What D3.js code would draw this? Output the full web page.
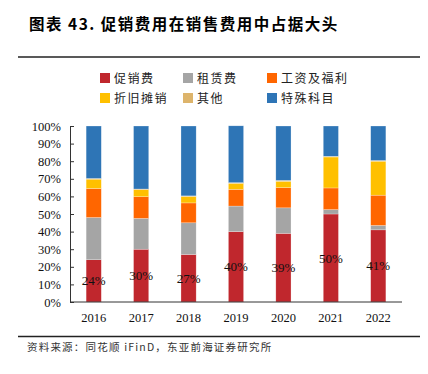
<!DOCTYPE html>
<html>
<head>
<meta charset="utf-8">
<script src="https://cdn.jsdelivr.net/npm/d3@7"></script>
<style>
  body { margin: 0; background: #fff; }
  svg text { font-family: "Liberation Serif", "Noto Sans CJK SC", serif; }
  .cjk { font-family: "Noto Sans CJK SC", sans-serif; }
</style>
</head>
<body>
<div id="chart"></div>
<script>
// data (percent of selling expenses)
const years = ["2016", "2017", "2018", "2019", "2020", "2021", "2022"];
const seriesNames = ["促销费", "租赁费", "工资及福利", "折旧摊销", "其他", "特殊科目"];
const promo = [24, 30, 27, 40, 39, 50, 41];
const rent = [24, 17.5, 18, 14.5, 14.5, 2.5, 2.5];
const salary = [16.5, 12.3, 11.3, 9.5, 11.5, 12.3, 17.2];
const deprec = [5.3, 4, 3.6, 3.4, 3.6, 17.6, 19.3];
const other = [0.4, 0.4, 0.4, 0.4, 0.5, 0.4, 0.4];
const special = [29.8, 35.8, 39.7, 32.3, 30.9, 17.2, 19.6];
const yTicks = [0, 10, 20, 30, 40, 50, 60, 70, 80, 90, 100];
const colors = ["#C0272D", "#A5A5A5", "#FF6600", "#FFC000", "#DDB46B", "#2E75B6"];

const width = 428, height = 374;
const margin = { top: 126, bottom: 72, left: 70, right: 26 };

const table = years.map((y, i) => ({
    year: y,
    "促销费": promo[i],
    "租赁费": rent[i],
    "工资及福利": salary[i],
    "折旧摊销": deprec[i],
    "其他": other[i],
    "特殊科目": special[i]
}));

const svg = d3.select("#chart").append("svg")
    .attr("width", width)
    .attr("height", height);

// title + rules
svg.append("text")
    .attr("class", "cjk")
    .attr("x", 29).attr("y", 30)
    .attr("font-size", 15.5)
    .attr("font-weight", "bold")
    .attr("letter-spacing", 1.5)
    .text("图表 43. 促销费用在销售费用中占据大头");

svg.append("line")
    .attr("x1", 18).attr("x2", 420)
    .attr("y1", 57).attr("y2", 57)
    .attr("stroke", "#222").attr("stroke-width", 1.5);

svg.append("line")
    .attr("x1", 18).attr("x2", 420)
    .attr("y1", 336.5).attr("y2", 336.5)
    .attr("stroke", "#222").attr("stroke-width", 1.5);

svg.append("text")
    .attr("class", "cjk")
    .attr("x", 27).attr("y", 350.5)
    .attr("font-size", 10.5)
    .attr("letter-spacing", 1.2)
    .attr("fill", "#333")
    .text("资料来源：同花顺 iFinD，东亚前海证券研究所");

// legend
const legend = svg.append("g");
const legendItems = legend.selectAll("g")
    .data(seriesNames)
    .join("g")
    .attr("transform", (d, i) => `translate(${[100, 183, 267][i % 3]},${i < 3 ? 73 : 93})`);
legendItems.append("rect")
    .attr("width", 10).attr("height", 10)
    .attr("fill", (d, i) => colors[i]);
legendItems.append("text")
    .attr("class", "cjk")
    .attr("x", 14).attr("y", 9.5)
    .attr("font-size", 12)
    .attr("letter-spacing", 1.5)
    .attr("fill", "#222")
    .text(d => d);

// scales
const xScale = d3.scaleBand()
    .domain(years)
    .range([margin.left, width - margin.right])
    .paddingInner(0.68)
    .paddingOuter(0.34);

const yScale = d3.scaleLinear()
    .domain([0, 100])
    .range([height - margin.bottom, margin.top]);

const stacked = d3.stack().keys(seriesNames)(table);

svg.append("g")
    .selectAll("g")
    .data(stacked)
    .join("g")
    .attr("fill", (d, i) => colors[i])
    .selectAll("rect")
    .data(d => d)
    .join("rect")
    .attr("x", d => xScale(d.data.year))
    .attr("width", xScale.bandwidth())
    .attr("y", d => yScale(d[1]))
    .attr("height", d => yScale(d[0]) - yScale(d[1]))
    .attr("stroke", "#fff")
    .attr("stroke-opacity", 0.5)
    .attr("stroke-width", 0.5);

// labels in promo segment
svg.append("g")
    .selectAll("text")
    .data(stacked[0])
    .join("text")
    .attr("x", d => xScale(d.data.year) + xScale.bandwidth() / 2)
    .attr("y", d => yScale((d[0] + d[1]) / 2) + 4.5)
    .attr("text-anchor", "middle")
    .attr("font-size", 13)
    .attr("fill", "#111")
    .text(d => d.data["促销费"] + "%");

// axes
const yAxis = d3.axisLeft(yScale)
    .tickValues(yTicks)
    .tickSizeInner(-4)
    .tickSizeOuter(-4)
    .tickPadding(9)
    .tickFormat(d => d + "%");

svg.append("g")
    .attr("class", "axis y-axis")
    .attr("transform", `translate(${margin.left},0)`)
    .call(yAxis)
    .call(g => g.selectAll("text").attr("font-size", 12.5).attr("fill", "#111")
        .style("font-family", "Liberation Serif"))
    .call(g => g.selectAll("path, line").attr("stroke", "#333"));

const xAxis = d3.axisBottom(xScale).tickSize(0).tickPadding(11);

svg.append("g")
    .attr("class", "axis x-axis")
    .attr("transform", `translate(0,${height - margin.bottom})`)
    .call(xAxis)
    .call(g => g.selectAll("text").attr("font-size", 12.5).attr("fill", "#111")
        .style("font-family", "Liberation Serif"))
    .call(g => g.select("path").attr("stroke", "#333").attr("d", `M${margin.left},0H${width - margin.right}`));
</script>
</body>
</html>
